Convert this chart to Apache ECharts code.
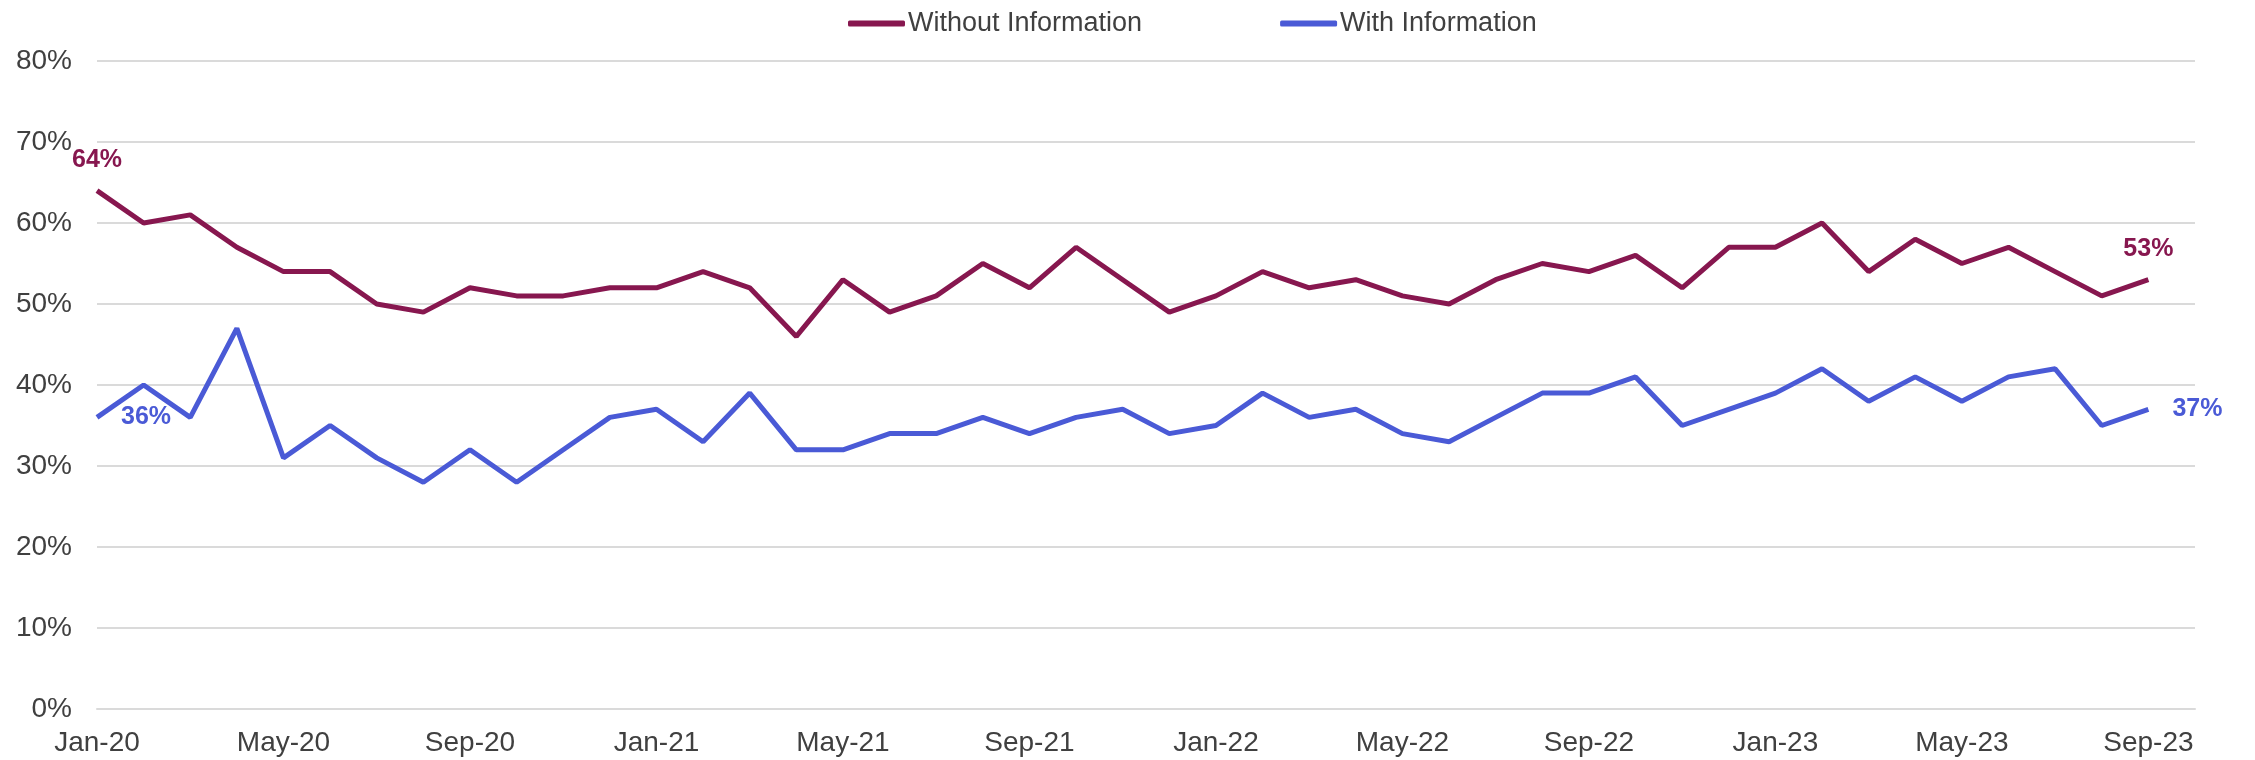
<!DOCTYPE html>
<html>
<head>
<meta charset="utf-8">
<script src="https://cdn.jsdelivr.net/npm/echarts@6/dist/echarts.min.js"></script>
<style>
html,body{margin:0;padding:0;background:#fff;}
#chart{width:2255px;height:760px;}
</style>
</head>
<body>
<div id="chart"></div>
<script>
const months = ['Jan-20','Feb-20','Mar-20','Apr-20','May-20','Jun-20','Jul-20','Aug-20','Sep-20','Oct-20','Nov-20','Dec-20',
  'Jan-21','Feb-21','Mar-21','Apr-21','May-21','Jun-21','Jul-21','Aug-21','Sep-21','Oct-21','Nov-21','Dec-21',
  'Jan-22','Feb-22','Mar-22','Apr-22','May-22','Jun-22','Jul-22','Aug-22','Sep-22','Oct-22','Nov-22','Dec-22',
  'Jan-23','Feb-23','Mar-23','Apr-23','May-23','Jun-23','Jul-23','Aug-23','Sep-23'];
const withoutInfo = [64,60,61,57,54,54,50,49,52,51,51,52,
  52,54,52,46,53,49,51,55,52,57,53,49,
  51,54,52,53,51,50,53,55,54,56,52,57,
  57,60,54,58,55,57,54,51,53];
const withInfo = [36,40,36,47,31,35,31,28,32,28,32,36,
  37,33,39,32,32,34,34,36,34,36,37,34,
  35,39,36,37,34,33,36,39,39,41,35,37,
  39,42,38,41,38,41,42,35,37];
const yTicks = {min:0, max:80, step:10};

const FONT = "'Liberation Sans', Arial, sans-serif";
const C1 = '#87174F';
const C2 = '#4A5AD6';

function buildData(arr, firstPos, lastPos, color) {
  return arr.map((v, i) => {
    if (i === 0 || i === arr.length - 1) {
      const pos = i === 0 ? firstPos : lastPos;
      return {
        value: v,
        label: {
          show: true,
          position: pos,
          distance: pos === 'top' ? 18 : 24,
          formatter: '{c}%',
          color: color,
          fontFamily: FONT,
          fontSize: 25,
          fontWeight: 'bold'
        }
      };
    }
    return v;
  });
}

const chart = echarts.init(document.getElementById('chart'));
chart.setOption({
  animation: false,
  backgroundColor: '#fff',
  grid: {left: 97, right: 60, top: 61, bottom: 51},
  legend: {
    left: 843, top: 5,
    icon: 'roundRect',
    itemWidth: 57, itemHeight: 6,
    itemGap: 138,
    textStyle: {fontFamily: FONT, fontSize: 27, color: '#404040', padding: [0,0,0,-2]},
    data: ['Without Information', 'With Information']
  },
  xAxis: {
    type: 'category',
    boundaryGap: false,
    data: months.concat(['']),
    axisLine: {show: true, lineStyle: {color: '#dadada', width: 2}},
    axisTick: {show: false},
    axisLabel: {interval: 3, margin: 20, fontFamily: FONT, fontSize: 28, color: '#404040'},
    splitLine: {show: false}
  },
  yAxis: {
    type: 'value',
    min: yTicks.min, max: yTicks.max, interval: yTicks.step,
    axisLine: {show: false},
    axisTick: {show: false},
    axisLabel: {formatter: '{value}%', margin: 25, fontFamily: FONT, fontSize: 28, color: '#404040'},
    splitLine: {lineStyle: {color: '#dadada', width: 2}}
  },
  series: [
    {
      name: 'Without Information', type: 'line',
      symbol: 'circle', symbolSize: 0, showSymbol: true,
      color: C1,
      lineStyle: {color: C1, width: 5},
      data: buildData(withoutInfo, 'top', 'top', C1)
    },
    {
      name: 'With Information', type: 'line',
      symbol: 'circle', symbolSize: 0, showSymbol: true,
      color: C2,
      lineStyle: {color: C2, width: 5},
      data: buildData(withInfo, 'right', 'right', C2)
    }
  ]
});
</script>
</body>
</html>
